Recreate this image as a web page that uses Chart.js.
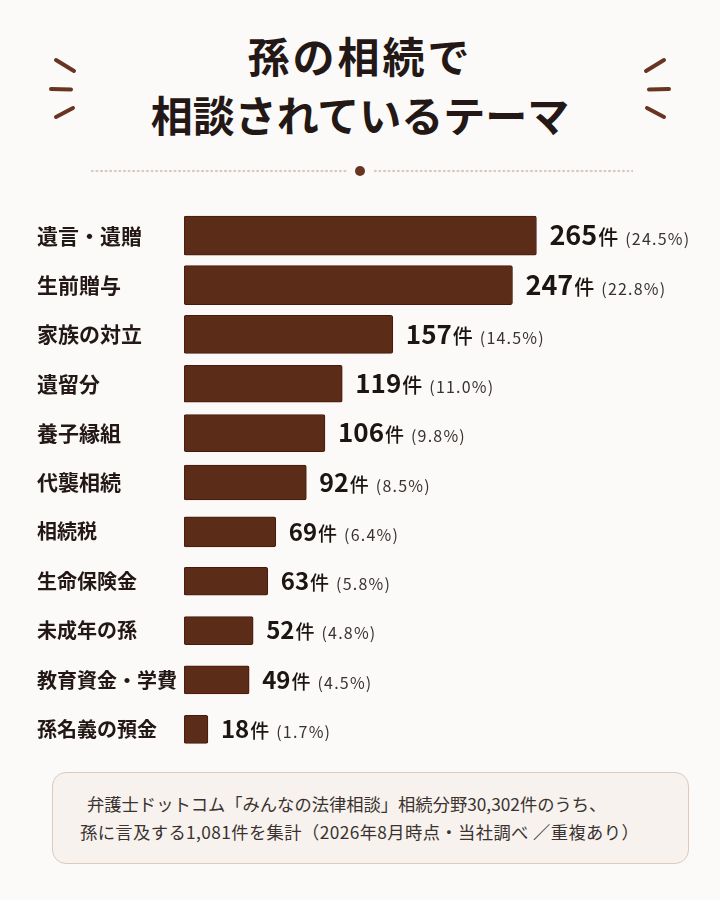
<!DOCTYPE html>
<html lang="ja">
<head>
<meta charset="utf-8">
<script src="https://cdn.jsdelivr.net/npm/chart.js@4.4.1/dist/chart.umd.min.js"></script>
<style>
  html, body { margin: 0; padding: 0; }
  body {
    width: 720px; height: 900px; position: relative; overflow: hidden;
    background: #fbfaf8; color: #231815;
    font-family: "Noto Sans CJK JP", "Noto Sans", sans-serif;
  }
  .title {
    position: absolute; left: 0; width: 720px; text-align: center;
    font-size: 42px; font-weight: 700; line-height: 42px;
  }
  .deco { position: absolute; top: 50px; }
  .rule {
    position: absolute; top: 168px; height: 6px;
    background: radial-gradient(circle, #d9c8be 1px, transparent 1.6px) 0 0 / 4.6px 6px repeat-x;
  }
  .dot {
    position: absolute; left: 355px; top: 166px; width: 10px; height: 10px;
    border-radius: 50%; background: #6a3520;
  }
  #chartBox { position: absolute; left: 0; top: 188px; }
  .note {
    position: absolute; left: 52px; top: 772px; width: 637px; height: 92px;
    box-sizing: border-box; border: 1px solid #dccabd; border-radius: 14px;
    background: #f7f2ee; font-size: 17.3px; line-height: 28px; color: #3a3230;
  }
  .note div { position: absolute; white-space: nowrap; }
</style>
</head>
<body>

<div class="title" style="top:34px; letter-spacing:3px;">孫の相続で</div>
<div class="title" style="top:93px;">相談されているテーマ</div>

<svg class="deco" style="left:40px" width="50" height="80" viewBox="0 0 50 80">
  <g stroke="#6a3520" stroke-width="4" stroke-linecap="round">
    <line x1="16" y1="10" x2="34" y2="21"/>
    <line x1="11" y1="39" x2="31" y2="39.5"/>
    <line x1="16" y1="67" x2="33" y2="58"/>
  </g>
</svg>
<svg class="deco" style="left:630px" width="50" height="80" viewBox="0 0 50 80">
  <g stroke="#6a3520" stroke-width="4" stroke-linecap="round">
    <line x1="34" y1="10" x2="16" y2="21"/>
    <line x1="39" y1="39" x2="19" y2="39.5"/>
    <line x1="34" y1="67" x2="17" y2="58"/>
  </g>
</svg>

<div class="rule" style="left:90px; width:258px;"></div>
<div class="rule" style="left:373px; width:260px;"></div>
<div class="dot"></div>

<div id="chartBox"><canvas id="chart" width="720" height="580"></canvas></div>

<div class="note">
  <div style="left:34px; top:17px;">弁護士ドットコム「みんなの法律相談」相続分野30,302件のうち、</div>
  <div style="left:27px; top:45px; letter-spacing:0.4px;">孫に言及する1,081件を集計（2026年8月時点・当社調べ ／重複あり）</div>
</div>

<script>
// data
const themes = ['遺言・遺贈', '生前贈与', '家族の対立', '遺留分', '養子縁組', '代襲相続',
  '相続税', '生命保険金', '未成年の孫', '教育資金・学費', '孫名義の預金'];
const counts = [265, 247, 157, 119, 106, 92, 69, 63, 52, 49, 18];
const shares = [24.5, 22.8, 14.5, 11.0, 9.8, 8.5, 6.4, 5.8, 4.8, 4.5, 1.7];

// per-row styling (top rows are drawn larger)
const barThick = [39, 39, 38, 37, 37, 35, 30, 28, 28, 28, 28];
const labelSize = [21, 21, 21, 21, 21, 21, 20, 20, 20, 20, 20];
const numSize = [27, 27, 26, 26, 26, 25, 24, 24, 24, 24, 24];
const unitSize = [20, 20, 20, 20, 19, 19, 19, 19, 19, 19, 19];

const FONT = '"Noto Sans CJK JP", "Noto Sans", sans-serif';
const BAR = '#5b2c17';

// one dataset per row so each bar can keep its own thickness
const datasets = themes.map((t, i) => ({
  label: t,
  data: counts.map((v, j) => (j === i ? v : null)),
  backgroundColor: BAR,
  borderColor: '#47190c',
  borderWidth: (c) => (c.raw == null ? 0 : 1),
  borderSkipped: false,
  borderRadius: 2,
  barThickness: barThick[i],
  grouped: false
}));

const valueLabels = {
  id: 'valueLabels',
  afterDatasetsDraw(chart) {
    const ctx = chart.ctx;
    ctx.save();
    ctx.textAlign = 'left';
    ctx.textBaseline = 'alphabetic';
    chart.data.datasets.forEach((ds, i) => {
      const bar = chart.getDatasetMeta(i).data[i];
      let x = bar.x + 13;
      const base = bar.y + numSize[i] * 0.36;
      const n = String(counts[i]);
      ctx.letterSpacing = '0px';
      ctx.fillStyle = '#1c1512';
      ctx.font = '700 ' + numSize[i] + 'px ' + FONT;
      ctx.fillText(n, x, base);
      x += ctx.measureText(n).width + 1;
      ctx.font = '500 ' + unitSize[i] + 'px ' + FONT;
      ctx.fillText('件', x, base);
      x += ctx.measureText('件').width + 7;
      ctx.fillStyle = '#3a3230';
      ctx.font = '400 16px ' + FONT;
      ctx.letterSpacing = '1.2px';
      ctx.fillText('(' + shares[i].toFixed(1) + '%)', x, base);
    });
    ctx.restore();
  }
};

new Chart(document.getElementById('chart'), {
  type: 'bar',
  data: { labels: themes, datasets },
  options: {
    indexAxis: 'y',
    responsive: false,
    animation: false,
    layout: { padding: { left: 37, right: 20, top: 23, bottom: 14 } },
    scales: {
      x: { display: false, min: 0, max: 388 },
      y: {
        grid: { display: false },
        border: { display: false },
        afterFit: (scale) => { scale.width = 147; },
        ticks: {
          crossAlign: 'far',
          padding: 0,
          color: '#231815',
          font: (c) => ({ family: FONT, size: labelSize[c.index] || 20, weight: '700' })
        }
      }
    },
    plugins: { legend: { display: false }, tooltip: { enabled: false } }
  },
  plugins: [valueLabels]
});
</script>
</body>
</html>
